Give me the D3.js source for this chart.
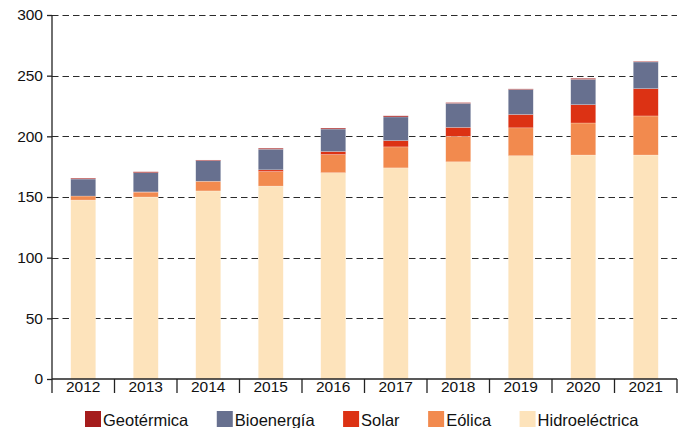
<!DOCTYPE html>
<html>
<head>
<meta charset="utf-8">
<script src="https://cdn.jsdelivr.net/npm/d3@7"></script>
<style>
  body { margin: 0; background: #fff; }
  svg { display: block; font-family: "Liberation Sans", Arial, Helvetica, sans-serif; }
</style>
</head>
<body>
<div id="chart"></div>
<script>
// Years on the x axis
const years = ["2012", "2013", "2014", "2015", "2016", "2017", "2018", "2019", "2020", "2021"];

// Series values
const hidroelectrica = [147.5, 150, 155, 159, 170, 174, 179, 184, 184.6, 184.6];
const eolica        = [3.3, 4, 8, 12, 15, 17.3, 21, 23, 26.4, 32.2];
const solar         = [0, 0.2, 0, 1.4, 2.5, 5.2, 7.4, 11, 15.1, 22.5];
const bioenergia    = [14, 15.8, 17, 17, 18.5, 19.5, 19.8, 20.6, 20.9, 22];
const geotermica    = [0.7, 0.8, 0.5, 0.8, 0.8, 0.9, 0.6, 0.5, 0.8, 0.5];

const yTicks = [0, 50, 100, 150, 200, 250, 300];

// Series names, bottom to top
const seriesNames = ["Hidroeléctrica", "Eólica", "Solar", "Bioenergía", "Geotérmica"];
const seriesValues = [hidroelectrica, eolica, solar, bioenergia, geotermica];
const seriesColors = ["#fde3bb", "#f28a4e", "#dc3214", "#67708f", "#a51c1c"];

// Legend order (left to right)
const legendOrder = ["Geotérmica", "Bioenergía", "Solar", "Eólica", "Hidroeléctrica"];

const width = 683, height = 428;
const margin = { top: 15, right: 6, bottom: 49, left: 52 };

const svg = d3.select('#chart')
  .append('svg')
    .attr('width', width)
    .attr('height', height);

// build table for the stack
const table = years.map((y, i) => {
  const row = { year: y };
  seriesNames.forEach((s, j) => { row[s] = seriesValues[j][i]; });
  return row;
});

const stacked = d3.stack().keys(seriesNames)(table);

const x = d3.scaleBand()
  .domain(years)
  .range([margin.left, width - margin.right])
  .padding(0);

const y = d3.scaleLinear()
  .domain([0, 300])
  .range([height - margin.bottom, margin.top]);

const color = d3.scaleOrdinal().domain(seriesNames).range(seriesColors);

// dashed grid lines
svg.append('g')
  .selectAll('line')
  .data(yTicks.filter(d => d > 0))
  .enter()
  .append('line')
    .attr('x1', margin.left)
    .attr('x2', width - margin.right)
    .attr('y1', d => Math.round(y(d)) + 0.5)
    .attr('y2', d => Math.round(y(d)) + 0.5)
    .attr('stroke', '#2b2b2b')
    .attr('stroke-width', 1)
    .attr('stroke-dasharray', '6.5,4');

// bars
const barW = x.bandwidth() * 0.4;
svg.append('g')
  .selectAll('g')
  .data(stacked)
  .enter()
  .append('g')
    .attr('fill', d => color(d.key))
  .selectAll('rect')
  .data(d => d)
  .enter()
  .append('rect')
    .attr('x', d => x(d.data.year) + (x.bandwidth() - barW) / 2)
    .attr('y', d => y(d[1]))
    .attr('width', barW)
    .attr('height', d => Math.max(0, y(d[0]) - y(d[1])))
    .attr('stroke', '#ffffff')
    .attr('stroke-width', 0.5)
    .attr('stroke-opacity', 0.45);

// y axis
const yAxis = d3.axisLeft(y).tickValues(yTicks).tickSize(5).tickPadding(4);
const gy = svg.append('g')
  .attr('transform', `translate(${margin.left},0)`)
  .call(yAxis);
gy.select('.domain').remove();
gy.append('line')
  .attr('x1', 0).attr('x2', 0)
  .attr('y1', margin.top)
  .attr('y2', height - margin.bottom + 14)
  .attr('stroke', '#222')
  .attr('stroke-width', 1.3);
gy.selectAll('.tick line').attr('stroke', '#222').attr('stroke-width', 1.3);
gy.selectAll('.tick text')
  .attr('fill', '#111')
  .style('font-size', '15.5px')
  .attr('font-family', null);

// x axis with ticks between bands
const gx = svg.append('g')
  .attr('transform', `translate(0,${height - margin.bottom})`);
gx.append('line')
  .attr('x1', margin.left).attr('x2', width - margin.right)
  .attr('stroke', '#222')
  .attr('stroke-width', 1.3);
const bounds = years.map(d => x(d)).concat([x(years[years.length - 1]) + x.bandwidth()]);
gx.selectAll('line.sep')
  .data(bounds.slice(1))
  .enter()
  .append('line')
    .attr('class', 'sep')
    .attr('x1', d => d).attr('x2', d => d)
    .attr('y1', 0).attr('y2', 14)
    .attr('stroke', '#222')
    .attr('stroke-width', 1.3);
gx.selectAll('text')
  .data(years)
  .enter()
  .append('text')
    .attr('x', d => x(d) + x.bandwidth() / 2)
    .attr('y', 13)
    .attr('text-anchor', 'middle')
    .attr('fill', '#111')
    .style('font-size', '15.5px')
    .text(d => d);

// legend
const legend = svg.append('g')
  .attr('transform', `translate(85, ${height - 17})`);
let lx = 0;
legendOrder.forEach(name => {
  const item = legend.append('g').attr('transform', `translate(${lx},0)`);
  item.append('rect')
    .attr('width', 16)
    .attr('height', 16)
    .attr('fill', color(name));
  const t = item.append('text')
    .attr('x', 18)
    .attr('y', 14.5)
    .attr('fill', '#111')
    .style('font-size', '16.5px')
    .text(name);
  lx += 18 + t.node().getComputedTextLength() + 28.5;
});
</script>
</body>
</html>
